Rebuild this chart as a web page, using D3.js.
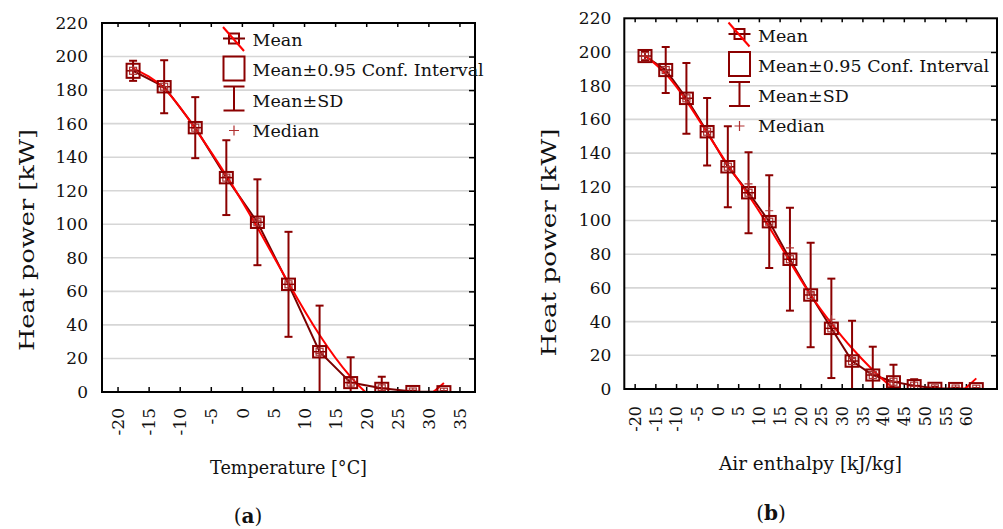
<!DOCTYPE html>
<html>
<head>
<meta charset="UTF-8">
<script src="https://d3js.org/d3.v7.min.js"></script>
<style>
  body { margin: 0; background: #fff; }
  svg text { font-family: "DejaVu Serif", serif; fill: #111; }
</style>
</head>
<body>
<div id="chart"></div>
<script>
// panel (a): temperature bins
var tempBins   = [-17.5, -12.5, -7.5, -2.5, 2.5, 7.5, 12.5, 17.5, 22.5, 27.5, 32.5];
var tempMean   = [191.5, 182, 157.6, 127.8, 101.2, 64.2, 24, 5.6, 2.2, 0.3, 0.2];
var tempSD     = [6, 15.8, 18.2, 22.3, 25.6, 31.3, 27.5, 15.1, 6.9, 0.5, 0.3];
var tempCI     = [4.2, 3.4, 3.4, 3.4, 3.4, 3.4, 3.4, 3.3, 3.3, 3.3, 3.3];
var tempMedian = [192, 182, 157, 128.5, 102, 65, 23, 5, 1, 0, 0];
var tempFit    = [193, 181, 157, 129, 98, 65, 34, 9, -7, -8, 5.4];
var tempTicks  = [-20, -15, -10, -5, 0, 5, 10, 15, 20, 25, 30, 35];

// panel (b): air enthalpy bins
var airBins   = [-17.5, -12.5, -7.5, -2.5, 2.5, 7.5, 12.5, 17.5, 22.5, 27.5, 32.5, 37.5, 42.5, 47.5, 52.5, 57.5, 62.5];
var airMean   = [197.6, 189.3, 172.5, 152.7, 131.9, 116.5, 99.3, 77, 55.8, 36, 16.6, 8.3, 4.3, 2, 0.4, 0.3, 0.2];
var airSD     = [2.5, 13.6, 21, 20, 24, 24, 27.5, 30.5, 31, 29.5, 23.9, 16.8, 10.1, 3.8, 0.8, 0.5, 0.3];
var airCI     = [3.6, 3.6, 3.4, 3.4, 3.4, 3.4, 3.4, 3.4, 3.4, 3.4, 3.4, 3.3, 3.3, 3.3, 3.3, 3.3, 3.3];
var airMedian = [197.6, 189, 172, 153, 132, 121.7, 105.8, 83.7, 57, 41.4, 18, 9, 4.5, 1.5, 0, 0, 0];
var airFit    = [198, 187, 171, 152, 133, 115, 96, 75.6, 55.8, 39, 24.2, 11.3, 0.5, -6, -8, -4, 6.3];
var airTicks  = [-20, -15, -10, -5, 0, 5, 10, 15, 20, 25, 30, 35, 40, 45, 50, 55, 60];

var yTicks = d3.range(0, 221, 20);

var dark = "#8b0000", lineDark = "#7a0000", fitRed = "#ff0000";

var svg = d3.select("#chart").append("svg")
  .attr("width", 1003).attr("height", 529);

function desenhaPainel(p) {
  var x = d3.scaleLinear().domain(p.xDomain).range([p.left, p.right]);
  var y = d3.scaleLinear().domain([0, 220]).range([p.bottom, p.top]);
  var g = svg.append("g");

  // grid
  g.append("g").selectAll("line").data(yTicks.slice(1, -1)).enter().append("line")
    .attr("x1", p.left).attr("x2", p.right)
    .attr("y1", d => y(d)).attr("y2", d => y(d))
    .attr("stroke", "#d6d6d6").attr("stroke-width", 1.6);

  // axes
  var ax = g.append("g").attr("transform", "translate(0," + p.bottom + ")")
    .call(d3.axisBottom(x).tickValues(p.ticks).tickSize(-5).tickFormat(d => String(d)));
  ax.select(".domain").remove();
  ax.selectAll("line").attr("stroke", "#000").attr("stroke-width", 1.5);
  ax.selectAll("text")
    .attr("transform", "rotate(-90)")
    .attr("x", -p.xLabelGap).attr("y", 0).attr("dy", "0.36em")
    .attr("text-anchor", "end")
    .style("font-size", p.xTickFont + "px");

  var at = g.append("g").attr("transform", "translate(0," + p.top + ")")
    .call(d3.axisTop(x).tickValues(p.ticks).tickSize(-4).tickFormat(""));
  at.select(".domain").remove();
  at.selectAll("line").attr("stroke", "#000").attr("stroke-width", 1.5);

  var ay = g.append("g").attr("transform", "translate(" + p.left + ",0)")
    .call(d3.axisLeft(y).tickValues(yTicks).tickSize(0).tickPadding(p.yPad));
  ay.select(".domain").remove();
  ay.selectAll("text").style("font-size", "17px").attr("fill", "#111");

  var ar = g.append("g").attr("transform", "translate(" + p.right + ",0)")
    .call(d3.axisRight(y).tickValues(yTicks.slice(1, -1)).tickSize(-6).tickFormat(""));
  ar.select(".domain").remove();
  ar.selectAll("line").attr("stroke", "#000").attr("stroke-width", 1.5);

  // clip
  var cid = "clip" + p.id;
  svg.append("clipPath").attr("id", cid).append("rect")
    .attr("x", p.left).attr("y", p.top)
    .attr("width", p.right - p.left).attr("height", p.bottom - p.top);
  var dg = g.append("g").attr("clip-path", "url(#" + cid + ")");

  var pts = p.bins.map((b, i) => ({b: b, m: p.mean[i], sd: p.sd[i], ci: p.ci[i], med: p.median[i], fit: p.fit[i]}));

  // mean line
  dg.append("path").datum(pts)
    .attr("d", d3.line().x(d => x(d.b)).y(d => y(d.m)))
    .attr("fill", "none").attr("stroke", lineDark).attr("stroke-width", 2);

  // fit curve
  dg.append("path").datum(pts)
    .attr("d", d3.line().curve(d3.curveNatural).x(d => x(d.b)).y(d => y(d.fit)))
    .attr("fill", "none").attr("stroke", fitRed).attr("stroke-width", 2);

  var gl = dg.selectAll(".pt").data(pts).enter().append("g")
    .attr("transform", d => "translate(" + x(d.b) + ",0)");

  // SD whiskers
  gl.append("line").attr("x1", 0).attr("x2", 0)
    .attr("y1", d => y(d.m + d.sd)).attr("y2", d => y(d.m - d.sd))
    .attr("stroke", dark).attr("stroke-width", 2);
  gl.append("line").attr("x1", -4).attr("x2", 4)
    .attr("y1", d => y(d.m + d.sd)).attr("y2", d => y(d.m + d.sd))
    .attr("stroke", dark).attr("stroke-width", 2);
  gl.append("line").attr("x1", -4).attr("x2", 4)
    .attr("y1", d => y(d.m - d.sd)).attr("y2", d => y(d.m - d.sd))
    .attr("stroke", dark).attr("stroke-width", 2);

  // CI box
  gl.append("rect").attr("x", -6.5).attr("width", 13)
    .attr("y", d => y(d.m + d.ci)).attr("height", d => y(d.m - d.ci) - y(d.m + d.ci))
    .attr("fill", "none").attr("stroke", dark).attr("stroke-width", 2);
  // mean marker
  gl.append("rect").attr("x", -3.5).attr("width", 7)
    .attr("y", d => y(d.m) - 3.5).attr("height", 7)
    .attr("fill", "none").attr("stroke", "#a33").attr("stroke-width", 1.2);
  gl.append("line").attr("x1", -6.5).attr("x2", 6.5)
    .attr("y1", d => y(d.m)).attr("y2", d => y(d.m))
    .attr("stroke", dark).attr("stroke-width", 1.5);
  // median
  gl.append("path")
    .attr("d", d => "M-4," + y(d.med) + "H4M0," + (y(d.med) - 4) + "V" + (y(d.med) + 4))
    .attr("stroke", "#b03030").attr("stroke-width", 1.2);

  // frame
  g.append("rect").attr("x", p.left).attr("y", p.top)
    .attr("width", p.right - p.left).attr("height", p.bottom - p.top)
    .attr("fill", "none").attr("stroke", "#000").attr("stroke-width", 2);

  // legend
  var lx = p.legX, ly = p.legY;
  var lg = g.append("g");
  lg.append("line").attr("x1", lx - 11).attr("x2", lx + 11).attr("y1", ly).attr("y2", ly)
    .attr("stroke", lineDark).attr("stroke-width", 2);
  lg.append("rect").attr("x", lx - 5).attr("y", ly - 5).attr("width", 10).attr("height", 10)
    .attr("fill", "none").attr("stroke", dark).attr("stroke-width", 2);
  lg.append("line").attr("x1", lx - 11).attr("y1", ly - 11.5).attr("x2", lx + 10).attr("y2", ly + 12.5)
    .attr("stroke", fitRed).attr("stroke-width", 2);
  lg.append("rect").attr("x", lx - 10.5).attr("y", ly + 18).attr("width", 21).attr("height", 24)
    .attr("fill", "none").attr("stroke", dark).attr("stroke-width", 2);
  lg.append("path")
    .attr("d", "M" + (lx - 10.5) + "," + (ly + 48) + "H" + (lx + 10.5) +
               "M" + lx + "," + (ly + 48) + "V" + (ly + 72) +
               "M" + (lx - 10.5) + "," + (ly + 72) + "H" + (lx + 10.5))
    .attr("fill", "none").attr("stroke", dark).attr("stroke-width", 2);
  lg.append("path")
    .attr("d", "M" + (lx - 5) + "," + (ly + 92) + "H" + (lx + 5) + "M" + lx + "," + (ly + 87) + "V" + (ly + 97))
    .attr("stroke", "#b03030").attr("stroke-width", 1.2);
  var labels = ["Mean", "Mean±0.95 Conf. Interval", "Mean±SD", "Median"];
  lg.selectAll("text").data(labels).enter().append("text")
    .attr("x", lx + 18.5).attr("y", (d, i) => ly + 7.5 + i * 30.3)
    .style("font-size", "17.5px")
    .text(d => d);

  // titles
  g.append("text")
    .attr("transform", "translate(" + p.yTitleX + "," + p.yTitleY + ") rotate(-90)")
    .attr("text-anchor", "middle").style("font-size", "21px")
    .attr("textLength", p.yTitleLen).attr("lengthAdjust", "spacingAndGlyphs")
    .text("Heat power [kW]");
  g.append("text")
    .attr("x", p.xTitleX).attr("y", p.xTitleY)
    .attr("text-anchor", "middle").style("font-size", "19px")
    .attr("textLength", p.xTitleLen).attr("lengthAdjust", "spacingAndGlyphs")
    .text(p.xTitle);
  var sub = g.append("text").attr("x", p.subX).attr("y", p.subY)
    .attr("text-anchor", "middle").style("font-size", "20px");
  sub.append("tspan").text("(");
  sub.append("tspan").style("font-weight", "bold").text(p.sub);
  sub.append("tspan").text(")");
}

desenhaPainel({
  id: "a", left: 102, right: 475, top: 23, bottom: 392,
  xDomain: [-22.5, 37.5], ticks: tempTicks, xLabelGap: 16, xTickFont: 17, yPad: 14,
  bins: tempBins, mean: tempMean, sd: tempSD, ci: tempCI, median: tempMedian, fit: tempFit,
  legX: 234, legY: 38.5,
  yTitleX: 34, yTitleY: 240, yTitleLen: 222,
  xTitle: "Temperature [°C]", xTitleX: 288.5, xTitleY: 474, xTitleLen: 157,
  sub: "a", subX: 248, subY: 523
});

desenhaPainel({
  id: "b", left: 624.3, right: 997, top: 18.3, bottom: 389,
  xDomain: [-22.5, 67.5], ticks: airTicks, xLabelGap: 17, xTickFont: 16, yPad: 13,
  bins: airBins, mean: airMean, sd: airSD, ci: airCI, median: airMedian, fit: airFit,
  legX: 739.5, legY: 34,
  yTitleX: 556, yTitleY: 242.5, yTitleLen: 228,
  xTitle: "Air enthalpy [kJ/kg]", xTitleX: 810.5, xTitleY: 470, xTitleLen: 183,
  sub: "b", subX: 771, subY: 520
});
</script>
</body>
</html>
